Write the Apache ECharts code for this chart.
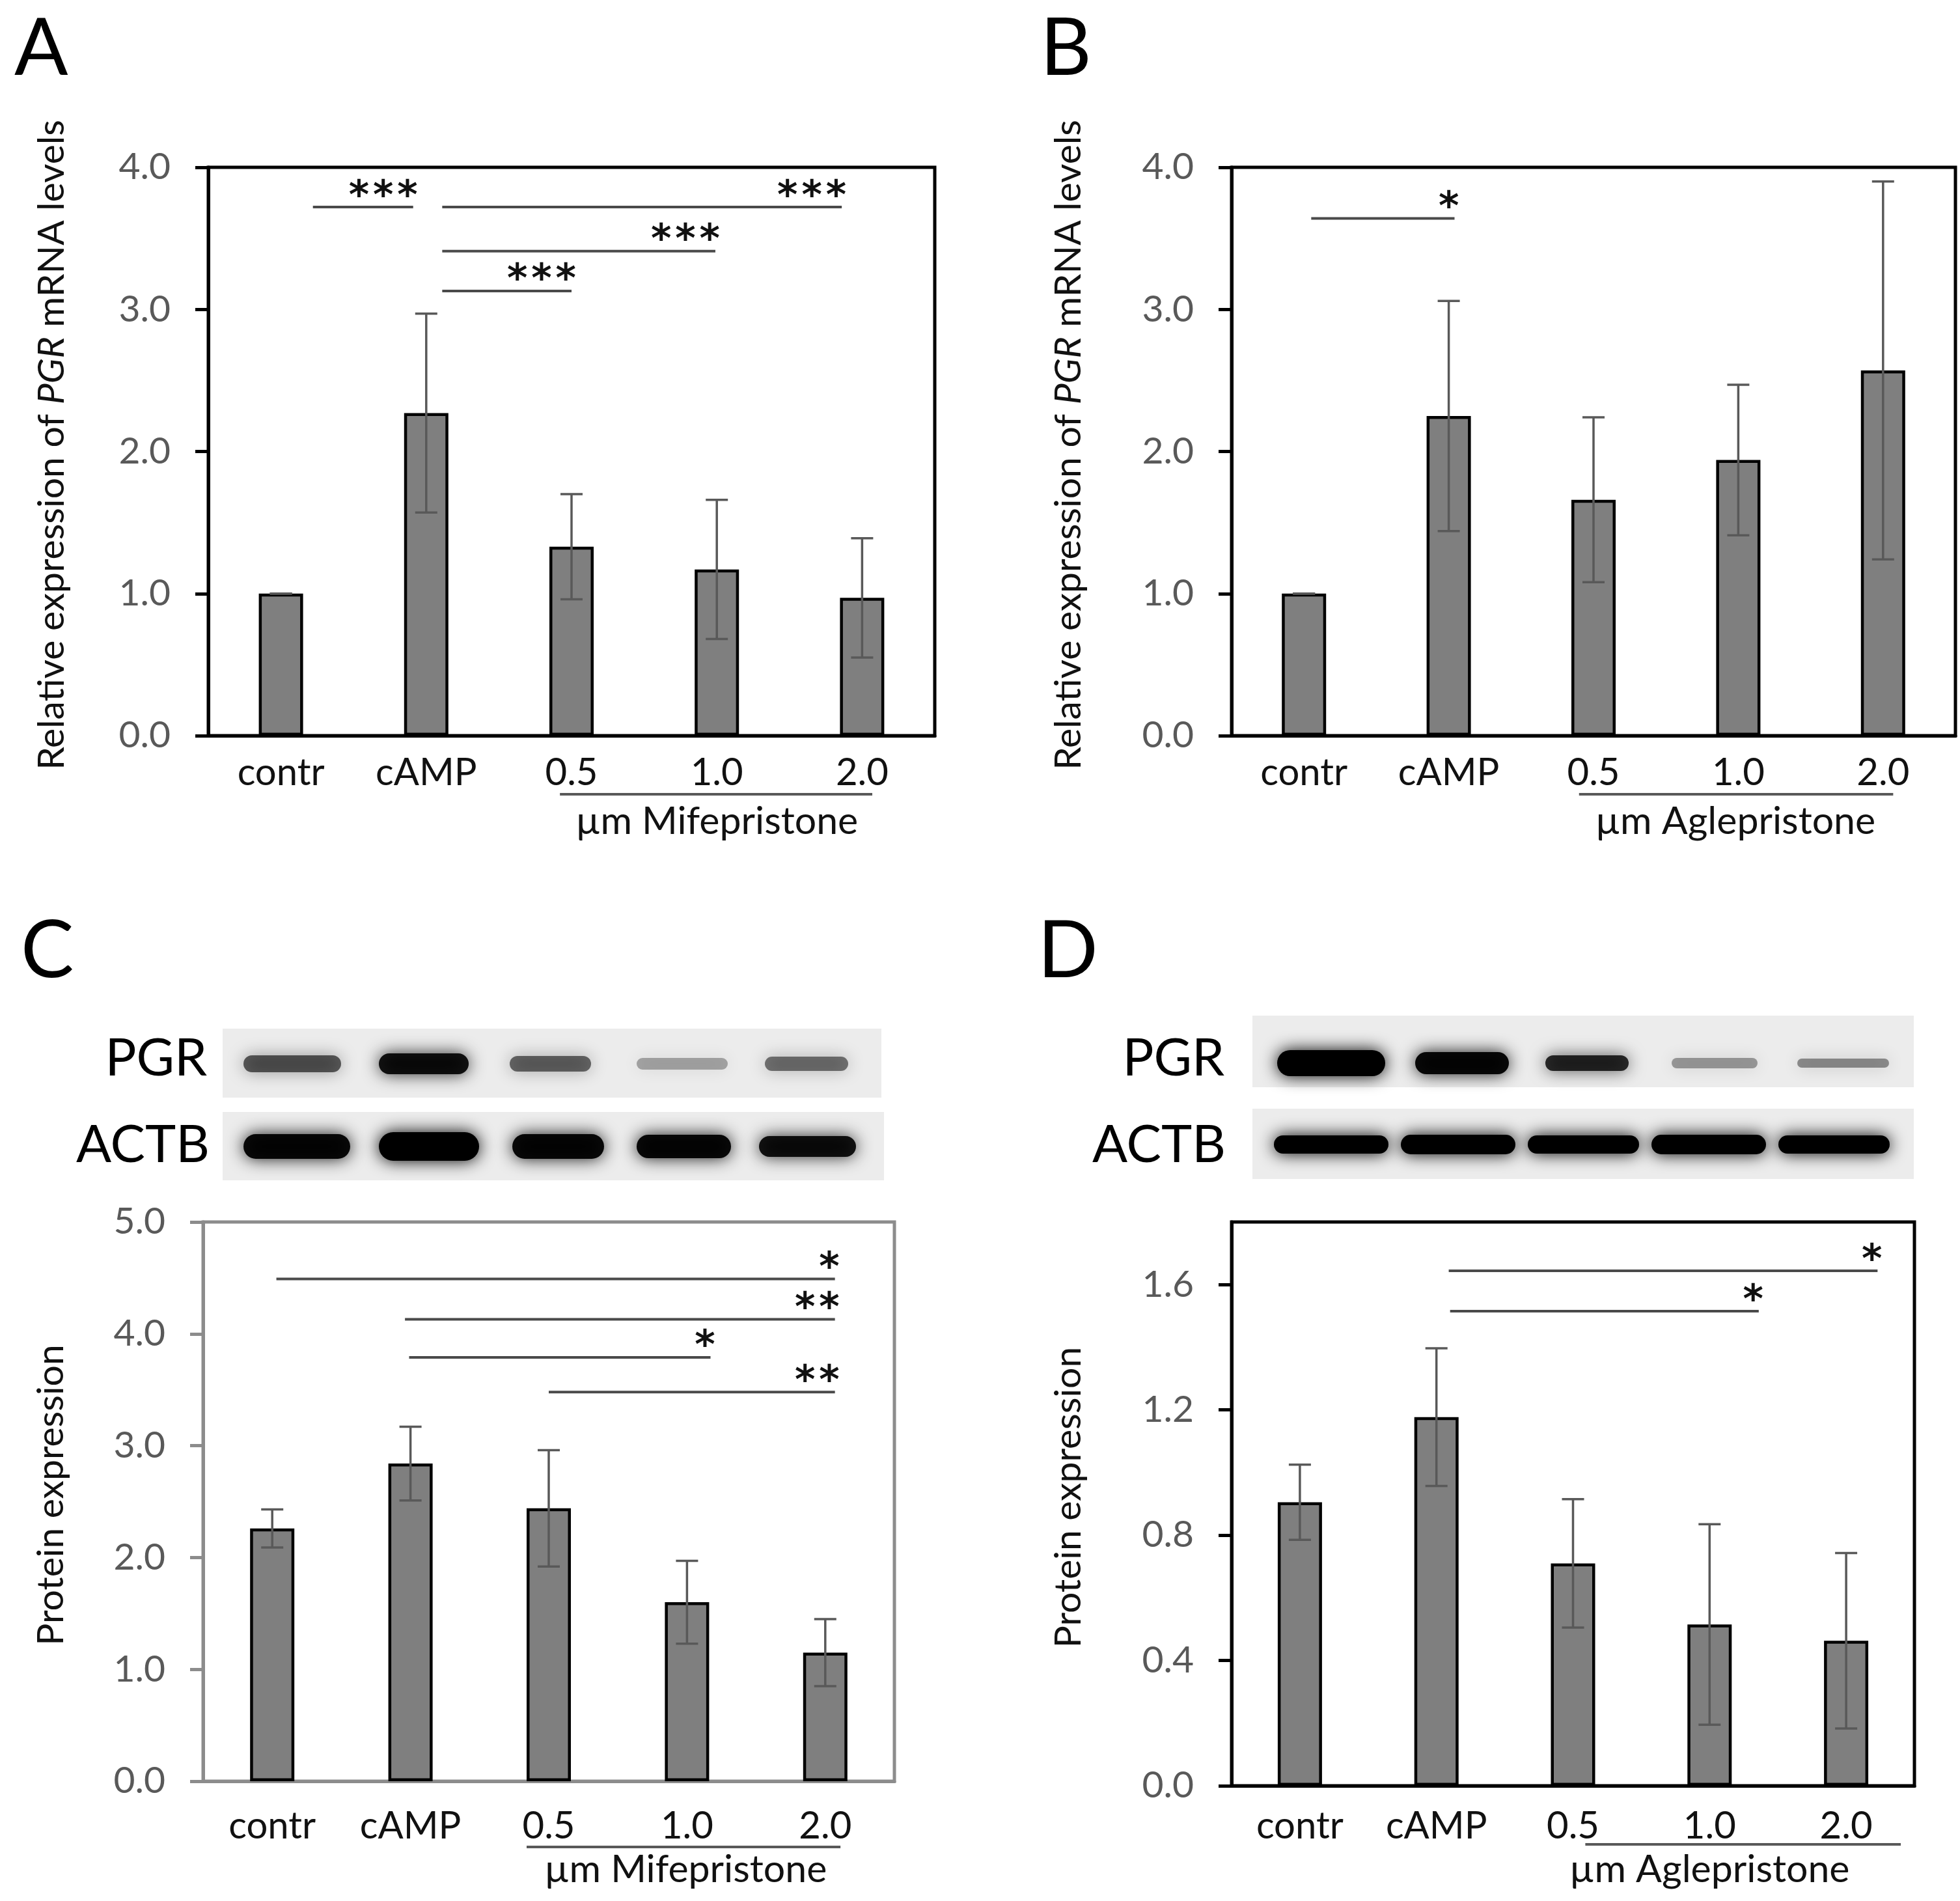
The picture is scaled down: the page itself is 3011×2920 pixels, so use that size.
<!DOCTYPE html>
<html>
<head>
<meta charset="utf-8">
<script src="https://cdn.jsdelivr.net/npm/echarts@6/dist/echarts.min.js"></script>
<style>
  html, body { margin: 0; padding: 0; background: #fff; }
  #chart { width: 3011px; height: 2920px; }
</style>
</head>
<body>
<div id="chart"></div>
<script>
// ---- data ----
const categories = ['contr', 'cAMP', '0.5', '1.0', '2.0'];

const mifeMrnaMean = [1.0, 2.27, 1.33, 1.17, 0.97];
const mifeMrnaErr = [0, 0.70, 0.37, 0.49, 0.42];
const agleMrnaMean = [1.0, 2.25, 1.66, 1.94, 2.57];
const agleMrnaErr = [0, 0.81, 0.58, 0.53, 1.33];
const mifeProtMean = [2.26, 2.84, 2.44, 1.60, 1.15];
const mifeProtErr = [0.17, 0.33, 0.52, 0.37, 0.30];
const agleProtMean = [0.905, 1.177, 0.71, 0.515, 0.463];
const agleProtErr = [0.12, 0.22, 0.205, 0.32, 0.28];

// significance brackets: [from, to, y, stars] (x in category index units)
const sigA = [[0.22, 0.91, 3.72, '***'], [1.11, 3.86, 3.72, '***'], [1.11, 2.99, 3.41, '***'], [1.11, 2.0, 3.13, '***']];
const sigB = [[0.05, 1.04, 3.64, '*']];
const sigC = [[0.03, 4.07, 4.49, '*'], [0.96, 4.07, 4.13, '**'], [0.99, 3.17, 3.79, '*'], [2.0, 4.07, 3.48, '**']];
const sigD = [[1.09, 4.23, 1.644, '*'], [1.10, 3.36, 1.515, '*']];

// western blot band intensity per lane
const blotC_PGR = [0.6, 0.9, 0.55, 0.3, 0.5];
const blotC_ACTB = [0.95, 1.0, 0.95, 0.95, 0.9];
const blotD_PGR = [1.0, 0.95, 0.8, 0.35, 0.4];
const blotD_ACTB = [1.0, 1.0, 1.0, 1.0, 1.0];

// ---- layout ----
const FONT = 'Lato, "Open Sans", sans-serif';
const STAR_FONT = 'bold 60px "DejaVu Sans", sans-serif';
const panels = [
  { grid: { left: 320, top: 257, width: 1116, height: 873 }, mean: mifeMrnaMean, err: mifeMrnaErr, sig: sigA,
    max: 4, interval: 1, axisColor: '#000', labelMargin: 28, nameGap: 212,
    title: '{n|Relative expression of }{i|PGR}{n| mRNA levels}', group: [1.92, 4.07, 3.0, 'µm Mifepristone'], groupOff: [90, 132] },
  { grid: { left: 1892, top: 257, width: 1112, height: 873 }, mean: agleMrnaMean, err: agleMrnaErr, sig: sigB,
    max: 4, interval: 1, axisColor: '#000', labelMargin: 28, nameGap: 222,
    title: '{n|Relative expression of }{i|PGR}{n| mRNA levels}', group: [1.9, 4.07, 2.98, 'µm Aglepristone'], groupOff: [90, 132] },
  { grid: { left: 312, top: 1877, width: 1062, height: 859 }, mean: mifeProtMean, err: mifeProtErr, sig: sigC,
    max: 5, interval: 1, axisColor: '#8c8c8c', labelMargin: 40, nameGap: 205,
    title: '{n|Protein expression}', group: [1.84, 4.11, 2.99, 'µm Mifepristone'], groupOff: [101, 136] },
  { grid: { left: 1892, top: 1877, width: 1049, height: 866 }, mean: agleProtMean, err: agleProtErr, sig: sigD,
    max: 1.8, interval: 0.4, axisColor: '#000', labelMargin: 33, nameGap: 222,
    title: '{n|Protein expression}', group: [2.09, 4.40, 3.0, 'µm Aglepristone'], groupOff: [90, 129] }
];

const chart = echarts.init(document.getElementById('chart'), null, { renderer: 'canvas' });

const grids = [], xAxes = [], yAxes = [], series = [];

panels.forEach((p, k) => {
  grids.push(Object.assign({ show: true, borderColor: p.axisColor, borderWidth: 5, backgroundColor: 'transparent' }, p.grid));

  xAxes.push({
    type: 'category', gridIndex: k, data: categories,
    axisLine: { show: true, onZero: false, lineStyle: { color: p.axisColor, width: 5 } },
    axisTick: { show: false },
    axisLabel: { color: '#111', fontSize: 58, fontFamily: FONT, margin: p.labelMargin }
  });

  yAxes.push({
    type: 'value', gridIndex: k, min: 0, max: p.max, interval: p.interval,
    splitLine: { show: false },
    axisLine: { show: true, onZero: false, lineStyle: { color: p.axisColor, width: 5 } },
    axisTick: { show: true, inside: false, length: 20, lineStyle: { color: p.axisColor, width: 5 } },
    axisLabel: { color: '#595959', fontSize: 57, fontFamily: FONT, margin: 58, showMaxLabel: p.max % p.interval === 0,
      formatter: (v) => v.toFixed(1) },
    name: p.title, nameLocation: 'middle', nameRotate: 90, nameGap: p.nameGap,
    nameTextStyle: { padding: [0, 0, 0, 20], rich: {
      n: { fontSize: 57, color: '#111', fontFamily: FONT },
      i: { fontSize: 57, color: '#111', fontFamily: FONT, fontStyle: 'italic' }
    } }
  });

  series.push({
    type: 'bar', xAxisIndex: k, yAxisIndex: k, data: p.mean, barWidth: 68,
    itemStyle: { color: '#7f7f7f', borderColor: '#000', borderWidth: 4.5 },
    silent: true
  });

  // error bars
  series.push({
    type: 'custom', xAxisIndex: k, yAxisIndex: k, z: 5,
    data: p.mean.map((m, i) => [i, m - p.err[i], m + p.err[i]]),
    renderItem: (params, api) => {
      const top = api.coord([api.value(0), api.value(2)]);
      const bot = api.coord([api.value(0), api.value(1)]);
      const h = 17;
      const st = { stroke: '#595959', lineWidth: 3.5 };
      return { type: 'group', children: [
        { type: 'line', shape: { x1: top[0], y1: top[1], x2: bot[0], y2: bot[1] }, style: st },
        { type: 'line', shape: { x1: top[0] - h, y1: top[1], x2: top[0] + h, y2: top[1] }, style: st },
        { type: 'line', shape: { x1: bot[0] - h, y1: bot[1], x2: bot[0] + h, y2: bot[1] }, style: st }
      ] };
    }
  });
});

// hidden value x axes (index 4..7) for brackets spanning between categories
panels.forEach((p, k) => {
  xAxes.push({ type: 'value', gridIndex: k, min: -0.5, max: 4.5, show: false,
    axisLine: { onZero: false } });

  series.push({
    type: 'custom', xAxisIndex: 4 + k, yAxisIndex: k, z: 6,
    data: p.sig.map((s) => [s[0], s[1], s[2]]),
    renderItem: (params, api) => {
      const a = api.coord([api.value(0), api.value(2)]);
      const b = api.coord([api.value(1), api.value(2)]);
      const stars = p.sig[params.dataIndex][3].split('').join('\u200A');
      return { type: 'group', children: [
        { type: 'line', shape: { x1: a[0], y1: a[1], x2: b[0], y2: b[1] }, style: { stroke: '#4a4a4a', lineWidth: 4 } },
        { type: 'text', x: b[0] + 7, y: b[1] + 16, style: {
          text: stars, fill: '#111', font: STAR_FONT, align: 'right', verticalAlign: 'bottom' } }
      ] };
    }
  });

  // treatment group underline and caption below the axis
  series.push({
    type: 'custom', xAxisIndex: 4 + k, yAxisIndex: k, z: 6,
    data: [[p.group[0], p.group[1], p.group[2]]],
    renderItem: (params, api) => {
      const a = api.coord([api.value(0), 0]);
      const b = api.coord([api.value(1), 0]);
      const c = api.coord([api.value(2), 0]);
      const ly = a[1] + p.groupOff[0];
      return { type: 'group', children: [
        { type: 'line', shape: { x1: a[0], y1: ly, x2: b[0], y2: ly }, style: { stroke: '#595959', lineWidth: 4 } },
        { type: 'text', x: c[0], y: a[1] + p.groupOff[1], style: {
          text: p.group[3], fill: '#111', font: '59px ' + FONT, align: 'center', verticalAlign: 'middle' } }
      ] };
    }
  });
});

// ---- decorations: panel letters, blot strips ----
const graphic = [];
[['A', 22, 76], ['B', 1598, 76], ['C', 32, 1462], ['D', 1594, 1462]].forEach(([t, x, y]) => {
  graphic.push({ type: 'text', x: x, y: y, style: { text: t, fill: '#000', font: '122px ' + FONT, verticalAlign: 'middle' } });
});

function blot(box, lanes, yc, heights, levels, label, labelRight, labelY) {
  graphic.push({ type: 'rect', shape: { x: box[0], y: box[1], width: box[2] - box[0], height: box[3] - box[1] },
    style: { fill: '#ececec' } });
  lanes.forEach((ln, i) => {
    const h = heights[i];
    const a = levels[i];
    graphic.push({ type: 'rect', shape: { x: ln[0] + 12, y: yc - h / 2, width: ln[1] - ln[0] - 24, height: h, r: h / 2 },
      style: { fill: 'rgba(0,0,0,' + a + ')', shadowBlur: 26, shadowColor: 'rgba(0,0,0,' + a + ')' } });
  });
  graphic.push({ type: 'text', x: labelRight, y: labelY, style: {
    text: label, fill: '#000', font: '80px ' + FONT, align: 'right', verticalAlign: 'middle' } });
}

blot([342, 1580, 1354, 1686], [[362, 536], [570, 732], [771, 920], [966, 1130], [1163, 1315]], 1634,
  [26, 32, 24, 18, 22], blotC_PGR, 'PGR', 318, 1626);
blot([342, 1708, 1358, 1813], [[362, 550], [570, 748], [775, 940], [966, 1135], [1154, 1327]], 1761,
  [38, 44, 38, 36, 32], blotC_ACTB, 'ACTB', 322, 1759);
blot([1924, 1560, 2940, 1670], [[1950, 2140], [2162, 2330], [2362, 2514], [2556, 2712], [2749, 2914]], 1633,
  [40, 34, 24, 16, 14], blotD_PGR, 'PGR', 1881, 1626);
blot([1924, 1703, 2940, 1811], [[1945, 2145], [2140, 2340], [2335, 2530], [2525, 2725], [2720, 2915]], 1758,
  [28, 30, 28, 30, 28], blotD_ACTB, 'ACTB', 1883, 1759);

chart.setOption({
  animation: false,
  backgroundColor: '#fff',
  textStyle: { fontFamily: FONT },
  grid: grids,
  xAxis: xAxes,
  yAxis: yAxes,
  series: series,
  graphic: graphic
});
</script>
</body>
</html>
